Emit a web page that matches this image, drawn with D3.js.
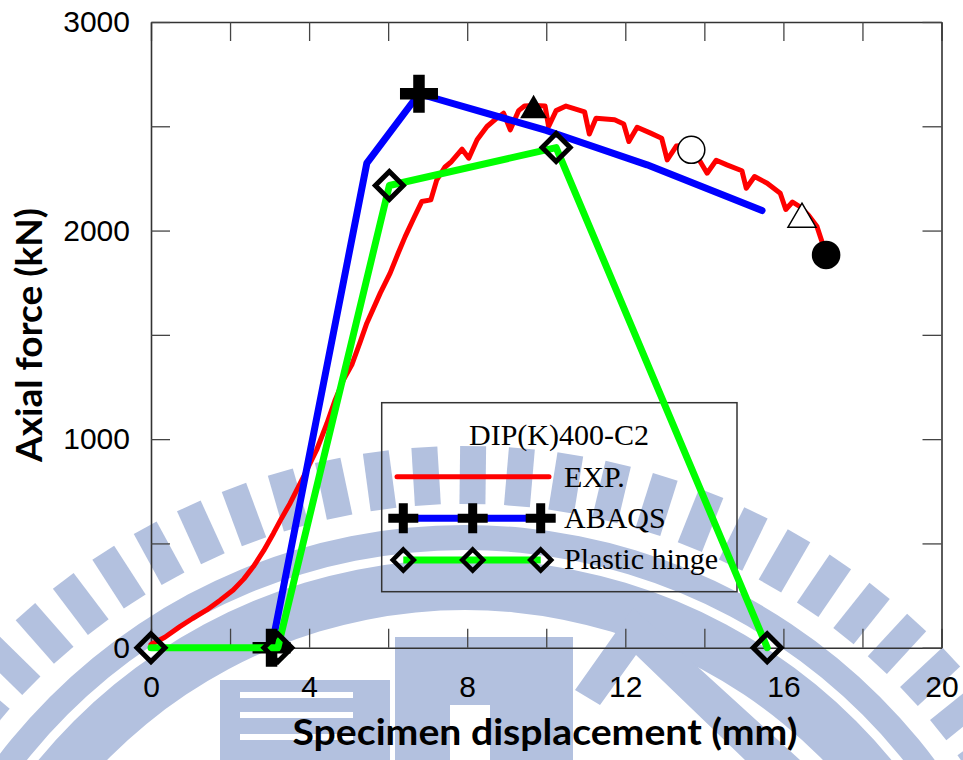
<!DOCTYPE html>
<html>
<head>
<meta charset="utf-8">
<script src="https://cdn.jsdelivr.net/npm/d3@7"></script>
<style>
  html, body { margin: 0; padding: 0; background: #ffffff; }
  svg { display: block; }
</style>
</head>
<body>
<div id="chart"></div>
<script>
// ---------------- DATA ----------------
// EXP. (experimental curve): displacement (mm) and axial force (kN)
const expX = [0, 0.35, 0.73, 1.05, 1.41, 1.75, 2.08, 2.35, 2.59, 2.85, 3.10, 3.30, 3.52, 3.86, 4.19, 4.45, 4.66, 4.87, 5.08, 5.30, 5.46, 5.80, 6.05, 6.25, 6.43, 6.65, 6.85, 7.08, 7.23, 7.44, 7.60, 7.87, 8.04, 8.25, 8.50, 8.75, 8.92, 9.09, 9.30, 9.45, 9.70, 9.97, 10.06, 10.25, 10.50, 10.97, 11.09, 11.26, 11.73, 11.96, 12.09, 12.30, 12.64, 12.92, 13.06, 13.29, 13.45, 13.85, 13.92, 14.07, 14.30, 14.57, 14.95, 15.06, 15.27, 15.59, 15.92, 16.06, 16.23, 16.43, 16.63, 16.85, 16.97, 17.08];
const expY = [15, 50, 101, 140, 181, 228, 277, 330, 389, 465, 549, 620, 693, 820, 948, 1075, 1188, 1284, 1356, 1470, 1556, 1700, 1796, 1890, 1971, 2060, 2139, 2147, 2243, 2305, 2330, 2390, 2347, 2435, 2499, 2539, 2563, 2483, 2575, 2597, 2600, 2597, 2499, 2575, 2597, 2569, 2463, 2539, 2531, 2511, 2427, 2495, 2467, 2443, 2339, 2405, 2408, 2345, 2323, 2275, 2337, 2315, 2287, 2203, 2259, 2227, 2179, 2101, 2137, 2113, 2075, 2019, 1950, 1883];

// ABAQS (finite element) curve
const abaqsX = [3.05, 5.46, 6.78, 10.0, 12.55, 15.46];
const abaqsY = [0, 2323, 2656, 2480, 2315, 2096];
const abaqsMarkerIdx = [0, 2];

// Plastic hinge model
const hingeX = [0, 3.21, 6.03, 10.25, 15.59];
const hingeY = [0, 0, 2216, 2398, 0];

// Special events on the experimental curve
const eventX = [9.68, 13.67, 16.47, 17.08];
const eventY = [2595, 2387, 2074, 1883];
const eventShape = ["triangleFilled", "circleOpen", "triangleOpen", "circleFilled"];

// Axes
const xTickValues = [0, 2, 4, 6, 8, 10, 12, 14, 16, 18, 20];
const xTickLabels = [0, 4, 8, 12, 16, 20];
const yTickValues = [0, 500, 1000, 1500, 2000, 2500, 3000];
const yTickLabels = [0, 1000, 2000, 3000];
const xTitle = "Specimen displacement (mm)";
const yTitle = "Axial force (kN)";
const legendTitle = "DIP(K)400-C2";
const seriesNames = ["EXP.", "ABAQS", "Plastic hinge"];
const seriesColors = ["#ff0000", "#0000ff", "#00ff00"];

// ---------------- CHART ----------------
const W = 963, H = 760;
const svg = d3.select("#chart").append("svg")
  .attr("width", W).attr("height", H)
  .attr("viewBox", `0 0 ${W} ${H}`);

svg.append("rect").attr("width", W).attr("height", H).attr("fill", "#ffffff");

// --- background watermark (decorative emblem) ---
const wm = svg.append("g").attr("class", "watermark").attr("fill", "#b3c1df");
const wmC = [465, 1112];
const arc = d3.arc();
wm.append("path")
  .attr("transform", `translate(${wmC[0]},${wmC[1]})`)
  .attr("d", arc({innerRadius: 502, outerRadius: 553, startAngle: -Math.PI / 2, endAngle: Math.PI / 2}));
wm.append("path")
  .attr("transform", `translate(${wmC[0]},${wmC[1]})`)
  .attr("d", arc({innerRadius: 562, outerRadius: 587, startAngle: -Math.PI / 2, endAngle: Math.PI / 2}));
d3.range(-16, 17).forEach(k => {
  const deg = 89.3 + k * 4.2;
  wm.append("rect")
    .attr("x", 608).attr("y", -13).attr("width", 58).attr("height", 26)
    .attr("transform", `translate(${wmC[0]},${wmC[1]}) rotate(${-deg})`);
});
// emblem blocks
wm.append("rect").attr("x", 220).attr("y", 680).attr("width", 170).attr("height", 80);
[692, 712, 734].forEach(yy => wm.append("rect").attr("x", 240).attr("y", yy).attr("width", 113).attr("height", 6).attr("fill", "#ffffff"));
wm.append("rect").attr("x", 395).attr("y", 637).attr("width", 178).attr("height", 123);
wm.append("rect").attr("x", 450).attr("y", 705).attr("width", 40).attr("height", 55).attr("fill", "#ffffff");
wm.append("path").attr("d", "M575,690 L633,608 L800,760 L745,760 L636,655 L600,705 Z");

// --- scales ---
const x = d3.scaleLinear().domain([0, 20]).range([151, 941.5]);
const y = d3.scaleLinear().domain([0, 3000]).range([647.7, 22]);

const tickFont = "'Liberation Sans', Arial, Helvetica, sans-serif";
function styleAxis(g) {
  g.attr("font-family", tickFont).attr("font-size", 30);
  g.select(".domain").attr("stroke", "#333333").attr("stroke-width", 1.6);
  g.selectAll(".tick line").attr("stroke", "#444444").attr("stroke-width", 1.3);
  g.selectAll(".tick text").attr("fill", "#000000");
}

svg.append("g").attr("transform", `translate(0,${y(0)})`)
  .call(d3.axisBottom(x).tickValues(xTickValues).tickSizeInner(-19).tickSizeOuter(0).tickPadding(28)
    .tickFormat(d => xTickLabels.includes(d) ? d : ""))
  .call(styleAxis);
svg.append("g").attr("transform", `translate(0,${y(3000)})`)
  .call(d3.axisTop(x).tickValues(xTickValues).tickSizeInner(-19).tickSizeOuter(0).tickFormat(() => ""))
  .call(styleAxis);
svg.append("g").attr("transform", `translate(${x(0)},0)`)
  .call(d3.axisLeft(y).tickValues(yTickValues).tickSizeInner(-19).tickSizeOuter(0).tickPadding(21)
    .tickFormat(d => yTickLabels.includes(d) ? d : ""))
  .call(styleAxis);
svg.append("g").attr("transform", `translate(${x(20)},0)`)
  .call(d3.axisRight(y).tickValues(yTickValues).tickSizeInner(-19).tickSizeOuter(0).tickFormat(() => ""))
  .call(styleAxis);

// axis titles
const titleFont = "Lato, 'Open Sans', 'DejaVu Sans', sans-serif";
svg.append("text")
  .attr("x", 545).attr("y", 745)
  .attr("text-anchor", "middle")
  .attr("font-family", titleFont).attr("font-weight", "bold").attr("font-size", 36)
  .attr("textLength", 505).attr("lengthAdjust", "spacingAndGlyphs")
  .attr("fill", "#000").text(xTitle);
svg.append("text")
  .attr("transform", "translate(42,335) rotate(-90)")
  .attr("text-anchor", "middle")
  .attr("font-family", titleFont).attr("font-weight", "bold").attr("font-size", 36)
  .attr("textLength", 254).attr("lengthAdjust", "spacingAndGlyphs")
  .attr("fill", "#000").text(yTitle);

// --- marker shapes ---
function plusPath(w, t) {
  const a = w / 2, b = t / 2;
  return `M${-a},${-b}H${a}V${b}H${-a}Z M${-b},${-a}H${b}V${a}H${-b}Z`;
}
function diamondPath(h) {
  return `M0,${-h}L${h},0L0,${h}L${-h},0Z`;
}
function trianglePath(w, h) {
  return `M0,${-h / 2}L${w / 2},${h / 2}L${-w / 2},${h / 2}Z`;
}

// --- legend box (drawn under series) ---
const lg = svg.append("g").attr("class", "legend");
lg.append("rect").attr("x", 381.7).attr("y", 402.7).attr("width", 355.3).attr("height", 189)
  .attr("fill", "none").attr("stroke", "#333333").attr("stroke-width", 1.5);
const legFont = "'Liberation Serif', 'Times New Roman', Times, serif";
lg.append("text").attr("x", 559).attr("y", 445).attr("text-anchor", "middle")
  .attr("font-family", legFont).attr("font-size", 30).attr("fill", "#000").text(legendTitle);
const legRowsY = [476.7, 518.3, 560];
const legBaseY = [487, 528, 569];
seriesNames.forEach((name, i) => {
  lg.append("text").attr("x", 564).attr("y", legBaseY[i])
    .attr("font-family", legFont).attr("font-size", 30).attr("fill", "#000").text(name);
});
// EXP legend line
lg.append("line").attr("x1", 397).attr("x2", 549).attr("y1", legRowsY[0]).attr("y2", legRowsY[0])
  .attr("stroke", seriesColors[0]).attr("stroke-width", 5).attr("stroke-linecap", "round");
// ABAQS legend
const legMarkX = [403.3, 472.7, 540.7];
lg.append("line").attr("x1", legMarkX[0]).attr("x2", legMarkX[2]).attr("y1", legRowsY[1]).attr("y2", legRowsY[1])
  .attr("stroke", seriesColors[1]).attr("stroke-width", 7);
legMarkX.forEach(mx => lg.append("path").attr("d", plusPath(30, 9))
  .attr("transform", `translate(${mx},${legRowsY[1]})`).attr("fill", "#000"));
// Plastic hinge legend
lg.append("line").attr("x1", legMarkX[0]).attr("x2", legMarkX[2]).attr("y1", legRowsY[2]).attr("y2", legRowsY[2])
  .attr("stroke", seriesColors[2]).attr("stroke-width", 7);
legMarkX.forEach(mx => lg.append("path").attr("d", diamondPath(10.5))
  .attr("transform", `translate(${mx},${legRowsY[2]})`)
  .attr("fill", "none").attr("stroke", "#000").attr("stroke-width", 4.5).attr("stroke-linejoin", "miter"));

// --- series ---
const line = d3.line().x(d => x(d[0])).y(d => y(d[1]));

const expData = d3.zip(expX, expY);
const abaqsData = d3.zip(abaqsX, abaqsY);
const hingeData = d3.zip(hingeX, hingeY);

svg.append("path").datum(expData).attr("d", line)
  .attr("fill", "none").attr("stroke", seriesColors[0]).attr("stroke-width", 5)
  .attr("stroke-linejoin", "round").attr("stroke-linecap", "round");

svg.append("path").datum(abaqsData).attr("d", line)
  .attr("fill", "none").attr("stroke", seriesColors[1]).attr("stroke-width", 7)
  .attr("stroke-linejoin", "round").attr("stroke-linecap", "round");
svg.append("g").selectAll("path").data(abaqsMarkerIdx.map(i => abaqsData[i])).join("path")
  .attr("d", plusPath(38, 11.5))
  .attr("transform", d => `translate(${x(d[0])},${y(d[1])})`)
  .attr("fill", "#000");

svg.append("path").datum(hingeData).attr("d", line)
  .attr("fill", "none").attr("stroke", seriesColors[2]).attr("stroke-width", 7)
  .attr("stroke-linejoin", "round").attr("stroke-linecap", "round");
svg.append("g").selectAll("path").data(hingeData).join("path")
  .attr("d", diamondPath(14))
  .attr("transform", d => `translate(${x(d[0])},${y(d[1])})`)
  .attr("fill", "none").attr("stroke", "#000").attr("stroke-width", 5);

// --- event markers on EXP curve ---
const evG = svg.append("g");
eventShape.forEach((s, i) => {
  const tx = `translate(${x(eventX[i])},${y(eventY[i])})`;
  if (s === "triangleFilled") {
    evG.append("path").attr("d", trianglePath(27, 23.5)).attr("transform", tx).attr("fill", "#000");
  } else if (s === "triangleOpen") {
    evG.append("path").attr("d", trianglePath(28, 24)).attr("transform", tx)
      .attr("fill", "#fff").attr("stroke", "#000").attr("stroke-width", 1.5);
  } else if (s === "circleOpen") {
    evG.append("circle").attr("r", 13.5).attr("transform", tx)
      .attr("fill", "#fff").attr("stroke", "#000").attr("stroke-width", 1.5);
  } else {
    evG.append("circle").attr("r", 14.3).attr("transform", tx).attr("fill", "#000");
  }
});
</script>
</body>
</html>
